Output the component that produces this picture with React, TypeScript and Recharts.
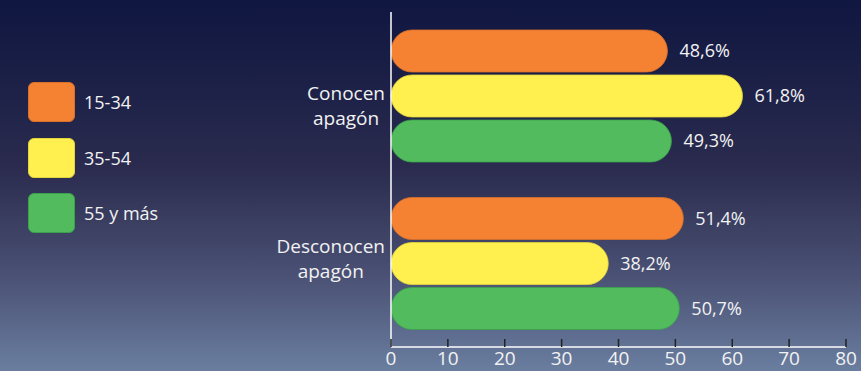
import { BarChart, Bar, XAxis, YAxis, LabelList } from 'recharts';

const categories = ['Conocen apagón', 'Desconocen apagón'];
const ages1534 = [48.6, 51.4];
const ages3554 = [61.8, 38.2];
const ages55 = [49.3, 50.7];
const xTicks = [0, 10, 20, 30, 40, 50, 60, 70, 80];

const series = [
  { key: 'a', name: '15-34', color: '#f58233', border: '#d9702a', values: ages1534 },
  { key: 'b', name: '35-54', color: '#fff04f', border: '#e3d43f', values: ages3554 },
  { key: 'c', name: '55 y más', color: '#52bb5e', border: '#3aa24a', values: ages55 },
];

const data = categories.map((name, i) => ({
  name,
  a: ages1534[i],
  b: ages3554[i],
  c: ages55[i],
}));

const FONT = '"Open Sans", sans-serif';
const TEXT = '#f2f2f2';

let ctx: CanvasRenderingContext2D | null = null;
function measure(text: string, size: number) {
  if (!ctx) ctx = document.createElement('canvas').getContext('2d');
  if (!ctx) return text.length * size * 0.55;
  ctx.font = `${size}px "Open Sans"`;
  return ctx.measureText(text).width;
}

// per-category vertical nudge of the two-line label
const labelDy = [4, -10];

function CategoryTick(props: any) {
  const { x, y, payload, index } = props;
  const words = String(payload.value).split(' ');
  const size = 19;
  const w = Math.max(...words.map((t) => measure(t, size)));
  const cx = x - 6 - w / 2;
  const dy = labelDy[index] ?? 0;
  return (
    <g>
      {words.map((t, i) => (
        <text key={i} x={cx} y={y + dy + i * 25} textAnchor="middle" fill={TEXT} fontSize={size} fontFamily={FONT}>
          {t}
        </text>
      ))}
    </g>
  );
}

function ValueTick(props: any) {
  const { x, y, payload } = props;
  return (
    <g>
      <line x1={x} x2={x} y1={y - 8} y2={y} stroke="#222" strokeWidth={1.5} />
      <text x={x} y={y + 18} textAnchor="middle" fill={TEXT} fontSize={19} fontFamily={FONT}>
        {payload.value}
      </text>
    </g>
  );
}

function LegendBox() {
  return (
    <div style={{ position: 'absolute', left: 28, top: 82 }}>
      {series.map((s) => (
        <div key={s.key} style={{ display: 'flex', alignItems: 'center', height: 40, marginBottom: 15.5 }}>
          <div
            style={{
              width: 45,
              height: 38,
              background: s.color,
              border: `1px solid ${s.border}`,
              borderRadius: 6,
            }}
          />
          <span style={{ marginLeft: 9, color: TEXT, fontSize: 18, fontFamily: FONT }}>{s.name}</span>
        </div>
      ))}
    </div>
  );
}

export default function App() {
  return (
    <div
      style={{
        position: 'absolute',
        left: 0,
        top: 0,
        width: 861,
        height: 371,
        overflow: 'hidden',
        background: 'linear-gradient(to bottom, #0f1640 0%, #2a2b4e 45%, #4b5275 75%, #6a7ea0 100%)',
      }}
    >
      <BarChart
        width={861}
        height={371}
        data={data}
        layout="vertical"
        margin={{ top: 12, right: 15, left: 0, bottom: 0 }}
        barCategoryGap={18}
        barGap={3}
      >
        <XAxis
          type="number"
          domain={[0, 80]}
          ticks={xTicks}
          height={24}
          tickSize={0}
          tickMargin={0}
          tickLine={false}
          axisLine={{ stroke: '#ffffff', strokeWidth: 1.5 }}
          tick={<ValueTick />}
          interval={0}
        />
        <YAxis
          type="category"
          dataKey="name"
          width={391}
          tickLine={false}
          tickSize={0}
          tickMargin={0}
          axisLine={{ stroke: '#ffffff', strokeWidth: 1.5 }}
          tick={<CategoryTick />}
        />
        {series.map((s) => (
          <Bar
            key={s.key}
            dataKey={s.key}
            name={s.name}
            fill={s.color}
            stroke={s.border}
            strokeWidth={0.8}
            radius={21}
            barSize={42}
            isAnimationActive={false}
          >
            <LabelList
              dataKey={s.key}
              position="right"
              offset={12}
              fill={TEXT}
              fontSize={18}
              fontFamily={FONT}
              formatter={(v: any) => `${String(v).replace('.', ',')}%`}
            />
          </Bar>
        ))}
      </BarChart>
      <LegendBox />
    </div>
  );
}
